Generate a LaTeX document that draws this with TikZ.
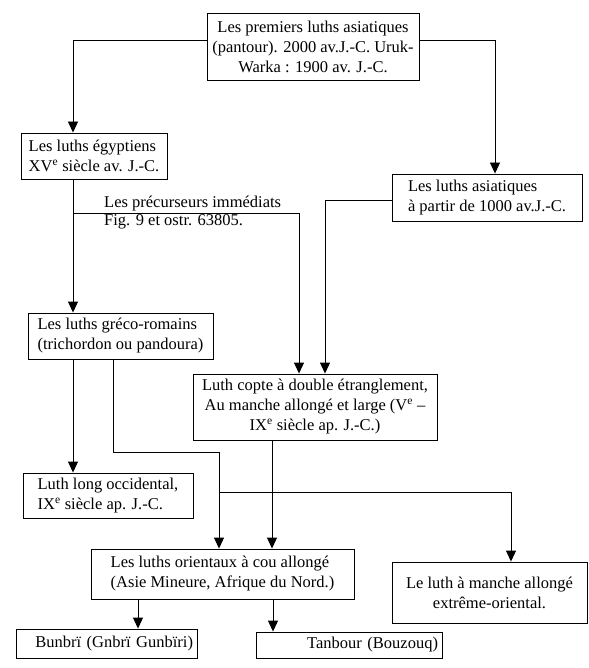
\documentclass[tikz,border=0pt]{standalone}
\usepackage{fontspec}
\setmainfont{Liberation Serif}
\usetikzlibrary{arrows.meta,positioning,calc}

\begin{document}
\begin{tikzpicture}[
    x=1pt, y=-1pt,
    >={Triangle[length=11pt,width=10pt]},
    box/.style={
        rectangle,
        draw=black,
        line width=0.9pt,
        inner xsep=4pt,
        inner ysep=2pt,
        font=\fontsize{16.5}{20}\selectfont,
        align=left
    },
    note/.style={
        font=\fontsize{16.5}{18}\selectfont,
        align=left,
        inner sep=0pt
    },
    flow/.style={->,line width=0.9pt}
]
\useasboundingbox (0,0) rectangle (588,668);

% Origins
\node[box,align=center,minimum width=212pt,minimum height=67pt] (premiers) at (313,46.5) {Les premiers luths asiatiques\\(pantour). 2000 av.J.-C. Uruk-\\Warka : 1900 av. J.-C.};
\node[box,minimum width=146pt,minimum height=46pt] (egypt) at (94,156) {Les luths égyptiens\\XV\textsuperscript{e} siècle av. J.-C.};
\node[box,minimum width=190pt,minimum height=47pt] (asiat) at (487,197.5) {Les luths asiatiques\\à partir de 1000 av.J.-C.};

% Middle row
\node[box,minimum width=185pt,minimum height=46pt] (greco) at (120.5,336) {Les luths gréco-romains\\(trichordon ou pandoura)};
\node[box,align=center,minimum width=244pt,minimum height=66pt] (copte) at (315,407) {Luth copte à double étranglement,\\Au manche allongé et large (V\textsuperscript{e} --\\IX\textsuperscript{e} siècle ap. J.-C.)};
\node[box,minimum width=170pt,minimum height=45pt] (long) at (108,495.5) {Luth long occidental,\\IX\textsuperscript{e} siècle ap. J.-C.};

% Descendants
\node[box,minimum width=263pt,minimum height=50pt] (orient) at (222.5,574) {Les luths orientaux à cou allongé\\(Asie Mineure, Afrique du Nord.)};
\node[box,align=center,minimum width=195pt,minimum height=61pt] (manche) at (489.5,592.5) {Le luth à manche allongé\\extrême-oriental.};
\node[box,align=right,text width=173pt,minimum height=29pt] (bunbri) at (106.5,643.5) {Bunbrï (Gnbrï Gunbïri)};
\node[box,align=right,text width=178pt,minimum height=26pt] (tanbour) at (349,645) {Tanbour (Bouzouq)};

% Annotation on the branch
\node[note,anchor=west] (precursor) at (104,213) {Les précurseurs immédiats\\Fig. 9 et ostr. 63805.};

% Top splits
\draw[flow] ([yshift=6.5pt]premiers.west) -| ([xshift=-21pt]egypt.north);
\draw[flow] ([yshift=6.5pt]premiers.east) -| ([xshift=8pt]asiat.north);

% Towards the Coptic lute
\draw[flow] ([xshift=-21pt]egypt.south) -- ([xshift=-21pt]egypt.south |- greco.north);
\coordinate (split) at (73,213);
\draw[flow] (split) -| ([xshift=-16pt]copte.north);
\draw[flow] ([yshift=-2.5pt]asiat.west) -| ([xshift=10pt]copte.north);

% From the Greco-Roman lutes
\draw[flow] ([xshift=-47.5pt]greco.south) -- ([xshift=-47.5pt]greco.south |- long.north);
\coordinate (turn) at (219,452);
\draw[flow] ([xshift=-7.5pt]greco.south) |- (turn) -- (turn |- orient.north);
\coordinate (fork) at (219,492);
\draw[flow] (fork) -| ([xshift=21.5pt]manche.north);
\draw[flow] ([xshift=-43pt]copte.south) -- ([xshift=-43pt]copte.south |- orient.north);

% Last generation
\draw[flow] ([xshift=-84.5pt]orient.south) -- ([xshift=-84.5pt]orient.south |- bunbri.north);
\draw[flow] ([xshift=50.5pt]orient.south) -- ([xshift=50.5pt]orient.south |- tanbour.north);

\end{tikzpicture}
\end{document}
